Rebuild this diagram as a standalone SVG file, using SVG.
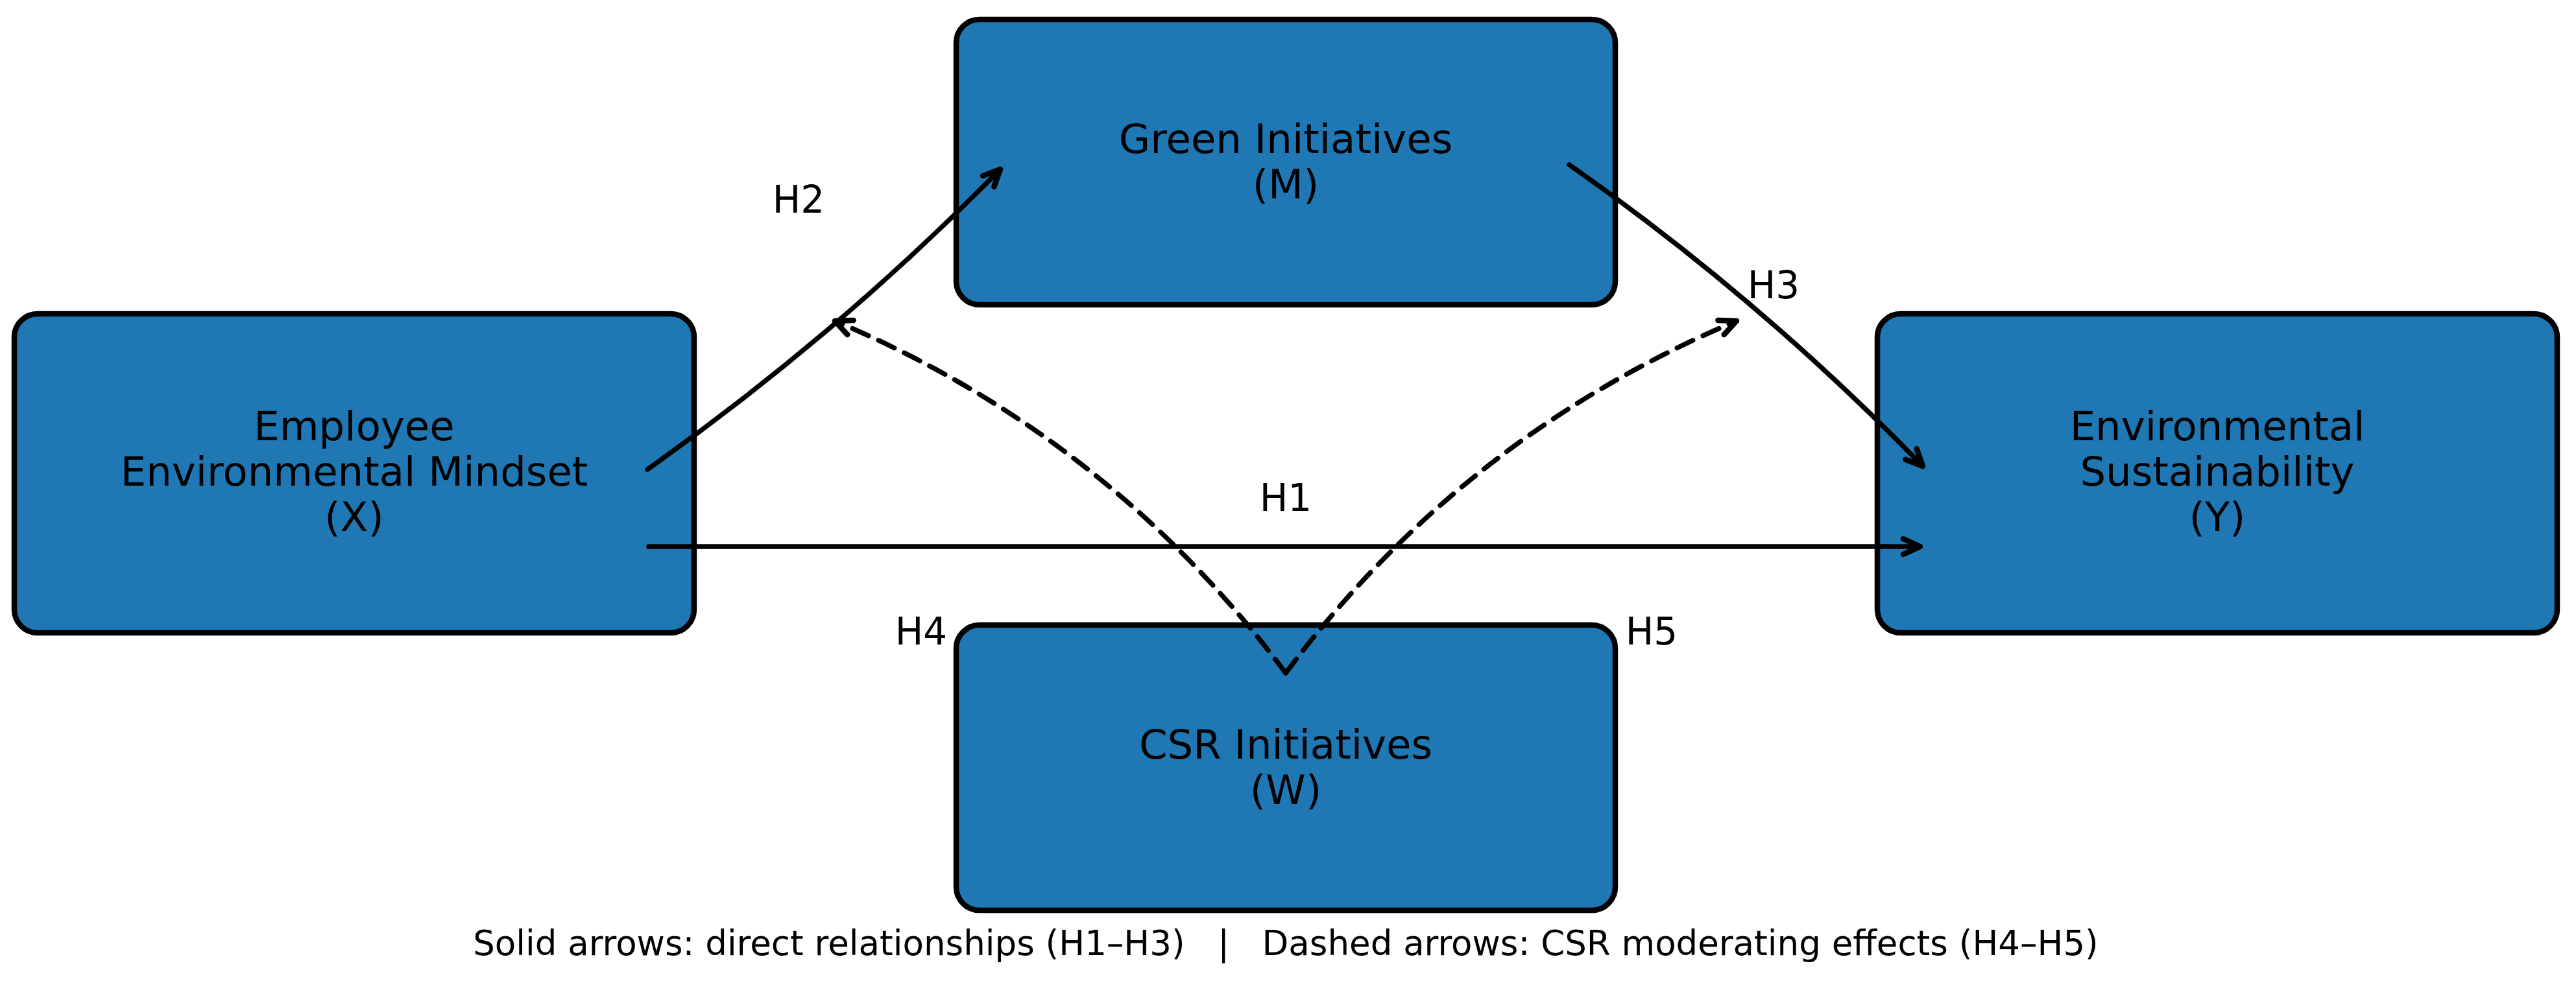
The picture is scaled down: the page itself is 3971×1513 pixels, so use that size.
<svg xmlns="http://www.w3.org/2000/svg" width="3971" height="1513" viewBox="0 0 3971 1513">
<style>
.box{fill:#1f77b4;stroke:#000;stroke-width:8.5}
.lbl{font-family:"DejaVu Sans","Liberation Sans",sans-serif;font-size:62.5px;fill:#000;text-anchor:middle}
.h{font-family:"DejaVu Sans","Liberation Sans",sans-serif;font-size:58px;fill:#000;text-anchor:middle}
.foot{font-family:"DejaVu Sans","Liberation Sans",sans-serif;font-size:53px;fill:#000;text-anchor:middle;white-space:pre}
.solid{fill:none;stroke:#000;stroke-width:7.5;stroke-linecap:round}
.dash{fill:none;stroke:#000;stroke-width:7.5;stroke-linecap:round;stroke-dasharray:27 17}
</style>
<defs>
<marker id="ah" markerUnits="userSpaceOnUse" viewBox="-40 -25 50 50" refX="0" refY="0" markerWidth="50" markerHeight="50" orient="auto" overflow="visible">
<path d="M-26,-12 L0,0 L-26,12" fill="none" stroke="#000" stroke-width="8.5" stroke-linecap="round" stroke-linejoin="round" stroke-dasharray="none"/>
</marker>
</defs>
<rect width="3971" height="1513" fill="#fff"/>
<g id="node-x">
<rect class="box" x="22" y="484" width="1048" height="492" rx="36" ry="36"/>
<text class="lbl" x="546" y="679">Employee</text>
<text class="lbl" x="546" y="749">Environmental Mindset</text>
<text class="lbl" x="546" y="819">(X)</text>
</g>
<g id="node-m">
<rect class="box" x="1474" y="30" width="1016" height="440" rx="36" ry="36"/>
<text class="lbl" x="1982" y="236">Green Initiatives</text>
<text class="lbl" x="1982" y="306">(M)</text>
</g>
<g id="node-y">
<rect class="box" x="2894" y="484" width="1048" height="492" rx="36" ry="36"/>
<text class="lbl" x="3418" y="679">Environmental</text>
<text class="lbl" x="3418" y="749">Sustainability</text>
<text class="lbl" x="3418" y="819">(Y)</text>
</g>
<g id="node-w">
<rect class="box" x="1474" y="964" width="1016" height="440" rx="36" ry="36"/>
<text class="lbl" x="1982" y="1170">CSR Initiatives</text>
<text class="lbl" x="1982" y="1240">(W)</text>
</g>
<g id="connectors">
<path id="h1" class="solid" d="M1000,843 L2960,843" marker-end="url(#ah)"/>
<path id="h2" class="solid" d="M998,724 Q1291,517 1542,261" marker-end="url(#ah)"/>
<path id="h3" class="solid" d="M2419,254 Q2714,461 2964,719" marker-end="url(#ah)"/>
<path id="h4" class="dash" d="M1982,1038 Q1708,672 1287,495" marker-end="url(#ah)"/>
<path id="h5" class="dash" d="M1982,1038 Q2256,672 2677,495" marker-end="url(#ah)"/>
</g>
<g id="edge-labels">
<text class="h" x="1982" y="788">H1</text>
<text class="h" x="1231" y="328">H2</text>
<text class="h" x="2734" y="460">H3</text>
<text class="h" x="1420" y="994">H4</text>
<text class="h" x="2546" y="994">H5</text>
</g>
<text class="foot" x="1982" y="1473" xml:space="preserve">Solid arrows: direct relationships (H1–H3)   |   Dashed arrows: CSR moderating effects (H4–H5)</text>
</svg>
